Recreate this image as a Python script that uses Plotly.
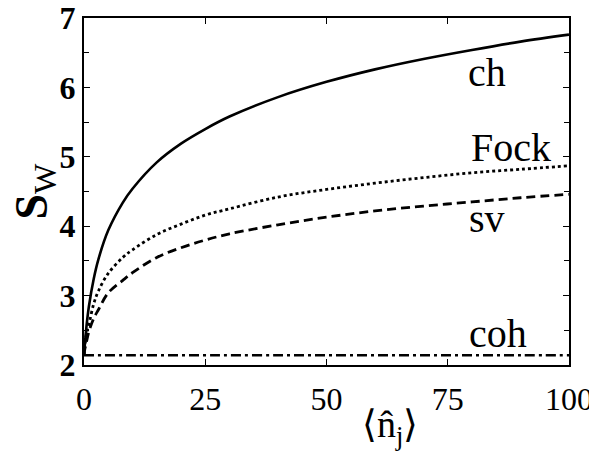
import plotly.graph_objects as go

# Mean photon number <n_j>
n_vals = [0, 0.2, 0.5, 1, 2, 3, 5, 8, 10, 15, 20, 25, 30, 40, 50, 60, 70, 80, 90, 100]
# Wehrl entropy S_W
ch_vals = [2.14, 2.32, 2.55, 2.84, 3.24, 3.53, 3.94, 4.34, 4.54, 4.92, 5.19, 5.40, 5.58,
           5.86, 6.08, 6.26, 6.41, 6.54, 6.66, 6.76]
fock_vals = [2.14, 2.28, 2.45, 2.58, 2.88, 3.07, 3.32, 3.55, 3.66, 3.88, 4.03, 4.16, 4.25,
             4.42, 4.53, 4.62, 4.70, 4.77, 4.82, 4.87]
sv_vals = [2.14, 2.24, 2.33, 2.48, 2.67, 2.80, 3.04, 3.22, 3.33, 3.55, 3.69, 3.80, 3.89,
           4.02, 4.13, 4.22, 4.29, 4.35, 4.41, 4.46]
coh_vals = [2.14] * len(n_vals)

labels = ["ch", "Fock", "sv", "coh"]
label_x = [83, 88, 83, 85.3]
label_y = [6.21, 5.13, 4.11, 2.45]

x_ticks = [0, 25, 50, 75, 100]
y_ticks = [2, 3, 4, 5, 6, 7]

x_title = "⟨n̂<sub>j</sub>⟩"
y_title = "<b>S</b><sub>W</sub>"

SERIF = "Liberation Serif, Times New Roman, serif"

fig = go.Figure()
styles = [
    (ch_vals, "solid", 2.6),
    (fock_vals, "dot", 2.8),
    (sv_vals, "9px,5px", 2.8),
    (coh_vals, "10px,4px,3px,4px", 2.6),
]
for ys, dash, w in styles:
    fig.add_trace(go.Scatter(x=n_vals, y=ys, mode="lines", line_shape="spline",
                             line=dict(color="black", width=w, dash=dash),
                             showlegend=False, hoverinfo="skip"))

for t, xx, yy in zip(labels, label_x, label_y):
    fig.add_annotation(x=xx, y=yy, text=t, showarrow=False,
                       font=dict(family=SERIF, size=40, color="black"))

# axis titles as annotations for precise placement
fig.add_annotation(xref="paper", yref="paper", x=0.631, y=0, yanchor="middle",
                   yshift=-62, text=x_title, showarrow=False,
                   font=dict(family=SERIF, size=38, color="black"))
fig.add_annotation(xref="paper", yref="paper", x=0, y=0.5, xanchor="center",
                   xshift=-50, text=y_title, textangle=-90, showarrow=False,
                   font=dict(family=SERIF, size=46, color="black"))

# page body has an 8px margin, so the figure is a bit smaller and margins shifted
fig.update_layout(
    width=589, height=446,
    margin=dict(l=76, r=28, t=10, b=89),
    plot_bgcolor="white", paper_bgcolor="white",
    font=dict(family=SERIF, color="black"),
)
fig.update_xaxes(
    range=[0, 100], tickvals=x_ticks, ticktext=[str(v) for v in x_ticks],
    ticks="inside", ticklen=6, tickwidth=1.2, tickcolor="black",
    showline=True, linewidth=2.4, linecolor="black", mirror="ticks",
    showgrid=False, zeroline=False, automargin=False,
    tickfont=dict(family=SERIF, size=32),
    ticklabelstandoff=4, ticklabeloverflow="allow",
)
fig.update_yaxes(
    range=[2, 7], tickvals=y_ticks, ticktext=[str(v) for v in y_ticks],
    ticks="inside", ticklen=6, tickwidth=1.2, tickcolor="black",
    minor=dict(dtick=0.5, ticks="inside", ticklen=5, tickwidth=1.2, tickcolor="black"),
    showline=True, linewidth=2.4, linecolor="black", mirror="ticks",
    showgrid=False, zeroline=False, automargin=False,
    tickfont=dict(family=SERIF, size=32, weight="bold"),
    ticklabelstandoff=0, ticklabeloverflow="allow",
)

fig.write_html("out.html")
